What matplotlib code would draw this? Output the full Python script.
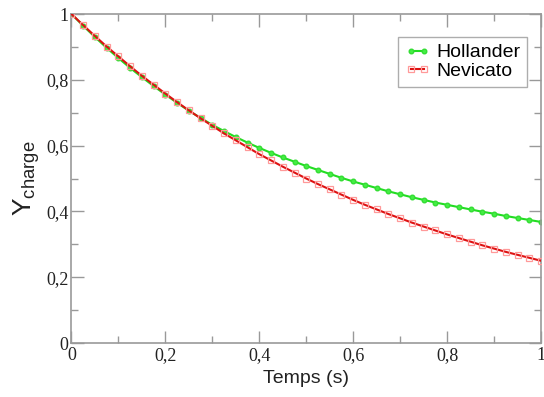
import matplotlib
matplotlib.use("Agg")
import matplotlib.pyplot as plt
from matplotlib.ticker import MultipleLocator, FuncFormatter

t = [i * 0.025 for i in range(41)]

hollander = [1.000, 0.964, 0.930, 0.897, 0.866, 0.836, 0.808, 0.781, 0.755, 0.730,
             0.706, 0.684, 0.663, 0.644, 0.626, 0.609, 0.593, 0.578, 0.564, 0.551,
             0.538, 0.526, 0.514, 0.502, 0.491, 0.481, 0.471, 0.461, 0.452, 0.443,
             0.435, 0.427, 0.420, 0.413, 0.406, 0.399, 0.393, 0.386, 0.380, 0.374,
             0.368]

nevicato = [1.000, 0.966, 0.933, 0.901, 0.871, 0.841, 0.812, 0.785, 0.758, 0.732,
            0.707, 0.683, 0.660, 0.637, 0.616, 0.595, 0.574, 0.555, 0.536, 0.518,
            0.500, 0.483, 0.467, 0.451, 0.435, 0.420, 0.406, 0.392, 0.379, 0.366,
            0.354, 0.342, 0.330, 0.319, 0.308, 0.297, 0.287, 0.277, 0.268, 0.259,
            0.250]

plt.rcParams['mathtext.fontset'] = 'custom'
plt.rcParams['mathtext.rm'] = 'Liberation Sans'

fig = plt.figure(figsize=(5.44, 3.97), dpi=100)
ax = fig.add_axes([0.1314, 0.136, 0.8631, 0.8287])

ax.plot(t, hollander, color='#22dd22', lw=1.5, marker='o', ms=3.3,
        mfc='#44ee44', mec='#33dd33', label='Hollander', zorder=2)
ax.plot(t, nevicato, color='#dd1111', lw=1.5, marker='s', ms=4,
        mfc='none', mec='#ff9999', mew=0.9, label='Nevicato', zorder=3)

ax.set_xlim(0, 1)
ax.set_ylim(0, 1)

grey = '#999999'
for s in ax.spines.values():
    s.set_color(grey)
    s.set_linewidth(1.2)

ax.xaxis.set_major_locator(MultipleLocator(0.2))
ax.xaxis.set_minor_locator(MultipleLocator(0.1))
ax.yaxis.set_major_locator(MultipleLocator(0.2))
ax.yaxis.set_minor_locator(MultipleLocator(0.1))

def fmt(v, pos):
    if abs(v) < 1e-9:
        return '0'
    if abs(v - 1) < 1e-9:
        return '1'
    return ('%.1f' % v).replace('.', ',')

ax.xaxis.set_major_formatter(FuncFormatter(fmt))
ax.yaxis.set_major_formatter(FuncFormatter(fmt))

ax.tick_params(which='both', direction='in', top=True, right=True, color=grey, width=1.0)
ax.tick_params(which='major', length=9)
ax.tick_params(which='minor', length=5)
ax.tick_params(axis='both', which='major', labelsize=13, labelcolor='#222222')
for lab in ax.get_xticklabels() + ax.get_yticklabels():
    lab.set_family('Liberation Serif')
ax.tick_params(axis='x', pad=3)
ax.tick_params(axis='y', pad=2)

ax.set_xlabel('Temps (s)', family='Liberation Sans', fontsize=14, labelpad=4, color='#222222')
ax.set_ylabel(r'Y$_{\mathrm{charge}}$', family='Liberation Sans', fontsize=19, labelpad=3, color='#222222')

leg = ax.legend(loc='upper right', bbox_to_anchor=(0.97, 0.93), prop={'family': 'Liberation Sans', 'size': 14},
                frameon=True, fancybox=False, edgecolor=grey, numpoints=2,
                handlelength=1.3, handletextpad=0.3, borderpad=0.35, labelspacing=0.05,
                borderaxespad=0)
leg.get_frame().set_linewidth(1.0)

fig.savefig('out.png', dpi=100)
